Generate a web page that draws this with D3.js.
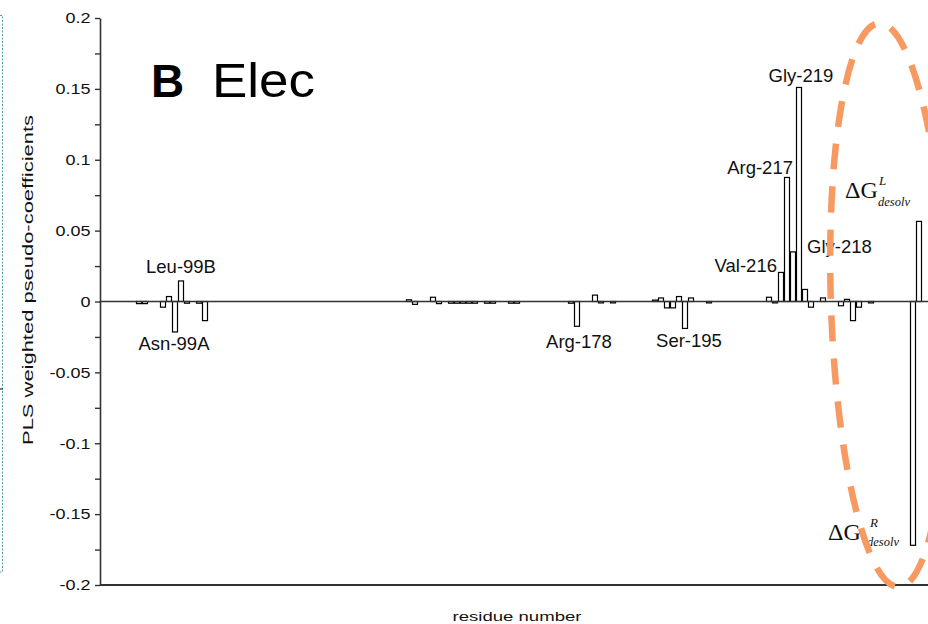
<!DOCTYPE html>
<html>
<head>
<meta charset="utf-8">
<script src="https://cdn.jsdelivr.net/npm/d3@7"></script>
<style>
  body { margin: 0; background: #fff; }
  svg { display: block; }
  .tick line { stroke: #333; stroke-width: 1.4; }
  .domain { stroke: #333; stroke-width: 1.6; }
</style>
</head>
<body>
<div id="chartDivId"></div>
<script>
// residue position (order along sequence) and PLS weighted pseudo-coefficient
const residueSlot = [6, 7, 10, 11, 12, 13, 14, 16, 17,
    51, 52, 55, 56, 58, 59, 60, 61, 62, 64, 65, 68, 69,
    78, 79, 82, 83, 85, 92, 93, 94, 95, 96, 97, 98, 101,
    111, 112, 113, 114, 115, 116, 117, 118, 120, 123, 124, 125, 126, 128,
    135, 136];
const coefficient = [-0.0015, -0.0015, -0.004, 0.0035, -0.0215, 0.0145, -0.0012, -0.0012, -0.0135,
    0.0012, -0.002, 0.003, -0.0015, -0.0012, -0.0012, -0.0012, -0.0012, -0.0012, -0.0012, -0.0012, -0.0012, -0.0012,
    -0.0012, -0.0175, 0.0045, -0.001, -0.001, 0.001, 0.0025, -0.0045, -0.0045, 0.0035, -0.019, 0.0025, -0.001,
    0.003, -0.001, 0.0205, 0.0875, 0.035, 0.151, 0.0085, -0.004, 0.0025, -0.003, 0.0015, -0.0135, -0.004, -0.001,
    -0.172, 0.0565];

// named residues
const residueNames = ["Leu-99B", "Asn-99A", "Arg-178", "Ser-195", "Val-216", "Arg-217", "Gly-218", "Gly-219"];
const residueNameSlot = [13, 12, 79, 97, 113, 114, 115, 116];

// desolvation terms (last two bars)
const desolvSlot = [136, 135];
const desolvSup = ["L", "R"];

// y axis ticks
const majorTicks = [0.2, 0.15, 0.1, 0.05, 0, -0.05, -0.1, -0.15, -0.2];
const tickLabels = ["0.2", "0.15", "0.1", "0.05", "0", "-0.05", "-0.1", "-0.15", "-0.2"];
const minorTicks = [0.175, 0.125, 0.075, 0.025, -0.025, -0.075, -0.125, -0.175];

const canvas = { width: 928, height: 624 };
const margin = { left: 100, top: 18, bottom: 39 };

var svg = d3.select("#chartDivId")
    .append("svg")
    .attr("width", canvas.width)
    .attr("height", canvas.height);

var x = d3.scaleLinear().domain([0, 140]).range([margin.left, 940]);
var y = d3.scaleLinear().domain([-0.2, 0.2]).range([canvas.height - margin.bottom, margin.top]);

// dotted edge of the neighbouring panel
svg.append("path")
    .attr("d", "M0,15.5H2.5V572H0")
    .attr("fill", "none")
    .attr("stroke", "#4f9ea3")
    .attr("stroke-width", 1)
    .attr("stroke-dasharray", "2,1.5");
svg.append("line")
    .attr("x1", 0).attr("x2", 3).attr("y1", 389).attr("y2", 389)
    .attr("stroke", "#333").attr("stroke-width", 1.2);

// minor ticks
svg.append("g")
    .attr("transform", "translate(" + margin.left + ",0)")
    .call(d3.axisLeft(y).tickValues(minorTicks).tickSize(5).tickFormat(""))
    .call(g => g.select(".domain").remove());

// major ticks + axis line
var yAxis = d3.axisLeft(y)
    .tickValues(majorTicks)
    .tickSize(5)
    .tickSizeOuter(0)
    .tickFormat((d, i) => tickLabels[i]);

var yg = svg.append("g")
    .attr("class", "y axis")
    .attr("transform", "translate(" + margin.left + ",0)")
    .call(yAxis);

yg.selectAll("text")
    .attr("x", -9.5 / 1.2)
    .attr("transform", "scale(1.2,1)")
    .style("font-family", "'Liberation Sans', Arial, sans-serif")
    .style("font-size", "15px")
    .style("fill", "#111");

// bottom axis line
svg.append("line")
    .attr("x1", margin.left).attr("x2", canvas.width)
    .attr("y1", y(-0.2)).attr("y2", y(-0.2))
    .attr("stroke", "#333").attr("stroke-width", 2);

// bars
var bars = residueSlot.map((s, i) => ({ slot: s, value: coefficient[i] }));

svg.selectAll("rect.bar")
    .data(bars)
    .enter()
    .append("rect")
    .attr("class", "bar")
    .attr("x", d => x(d.slot) + 0.5)
    .attr("width", d => x(d.slot + 1) - x(d.slot) - 1)
    .attr("y", d => Math.min(y(d.value), y(0)))
    .attr("height", d => Math.max(1, Math.abs(y(d.value) - y(0))))
    .attr("fill", "#fff")
    .attr("stroke", "#000")
    .attr("stroke-width", 1.2);

// zero line
svg.append("line")
    .attr("x1", margin.left).attr("x2", canvas.width)
    .attr("y1", y(0)).attr("y2", y(0))
    .attr("stroke", "#333").attr("stroke-width", 1.6);

// residue labels
var placement = {
    "Leu-99B": { dx: 0, dy: -8, anchor: "middle" },
    "Asn-99A": { dx: -1, dy: 18, anchor: "middle" },
    "Arg-178": { dx: 2, dy: 22, anchor: "middle" },
    "Ser-195": { dx: 4, dy: 19, anchor: "middle" },
    "Val-216": { dx: -4, dy: 0, anchor: "end" },
    "Arg-217": { dx: 6, dy: -3, anchor: "end" },
    "Gly-218": { dx: 14, dy: 1, anchor: "start" },
    "Gly-219": { dx: 2, dy: -5, anchor: "middle" }
};

residueNames.forEach(function(name, i) {
    var s = residueNameSlot[i];
    var v = coefficient[residueSlot.indexOf(s)];
    var p = placement[name];
    svg.append("text")
        .attr("x", (x(s) + x(s + 1)) / 2 + p.dx)
        .attr("y", y(v) + p.dy)
        .attr("text-anchor", p.anchor)
        .style("font-family", "'Liberation Sans', Arial, sans-serif")
        .style("font-size", "18.5px")
        .style("fill", "#111")
        .text(name);
});

// desolvation annotations
var desolvPos = [
    { dx: -71, dy: -23, supDx: -37, supDy: -36, subDx: -38, subDy: -15 },
    { dx: -82, dy: -5, supDx: -40, supDy: -18, subDx: -43, subDy: 1 }
];
desolvSlot.forEach(function(s, i) {
    var v = coefficient[residueSlot.indexOf(s)];
    var bx = x(s), by = y(v), p = desolvPos[i];
    svg.append("text")
        .attr("x", bx + p.dx).attr("y", by + p.dy)
        .style("font-family", "'Liberation Serif', 'Times New Roman', serif")
        .style("font-size", "24px")
        .style("fill", "#111")
        .text("\u0394G");
    svg.append("text")
        .attr("x", bx + p.supDx).attr("y", by + p.supDy)
        .style("font-family", "'Liberation Serif', 'Times New Roman', serif")
        .style("font-style", "italic")
        .style("font-size", "13px")
        .style("fill", "#111")
        .text(desolvSup[i]);
    svg.append("text")
        .attr("x", bx + p.subDx).attr("y", by + p.subDy)
        .style("font-family", "'Liberation Serif', 'Times New Roman', serif")
        .style("font-style", "italic")
        .style("font-size", "12.5px")
        .style("fill", "#111")
        .text("desolv");
});

// axis titles
svg.append("text")
    .attr("transform", "translate(33,280) rotate(-90)")
    .attr("text-anchor", "middle")
    .attr("textLength", 330)
    .attr("lengthAdjust", "spacingAndGlyphs")
    .style("font-family", "'Liberation Sans', Arial, sans-serif")
    .style("font-size", "14.5px")
    .style("fill", "#111")
    .text("PLS weighted pseudo-coefficients");

svg.append("text")
    .attr("x", 517)
    .attr("y", 621)
    .attr("text-anchor", "middle")
    .attr("textLength", 129)
    .attr("lengthAdjust", "spacingAndGlyphs")
    .style("font-family", "'Liberation Sans', Arial, sans-serif")
    .style("font-size", "13.5px")
    .style("fill", "#111")
    .text("residue number");

// panel title
svg.append("text")
    .attr("x", 151)
    .attr("y", 97)
    .style("font-family", "'Liberation Sans', Arial, sans-serif")
    .style("font-weight", "bold")
    .style("font-size", "46px")
    .style("fill", "#000")
    .text("B");
svg.append("text")
    .attr("x", 212)
    .attr("y", 97)
    .attr("textLength", 103)
    .attr("lengthAdjust", "spacingAndGlyphs")
    .style("font-family", "'Liberation Sans', Arial, sans-serif")
    .style("font-size", "48px")
    .style("fill", "#000")
    .text("Elec");

// highlight ellipse around the desolvation terms
svg.append("ellipse")
    .attr("cx", x(131.5))
    .attr("cy", y(-0.0025))
    .attr("rx", 58)
    .attr("ry", 282)
    .attr("transform", "rotate(-2," + x(131.5) + "," + y(-0.0025) + ")")
    .attr("fill", "none")
    .attr("stroke", "#f79a62")
    .attr("stroke-width", 6.5)
    .attr("stroke-dasharray", "26,17");
</script>
</body>
</html>
